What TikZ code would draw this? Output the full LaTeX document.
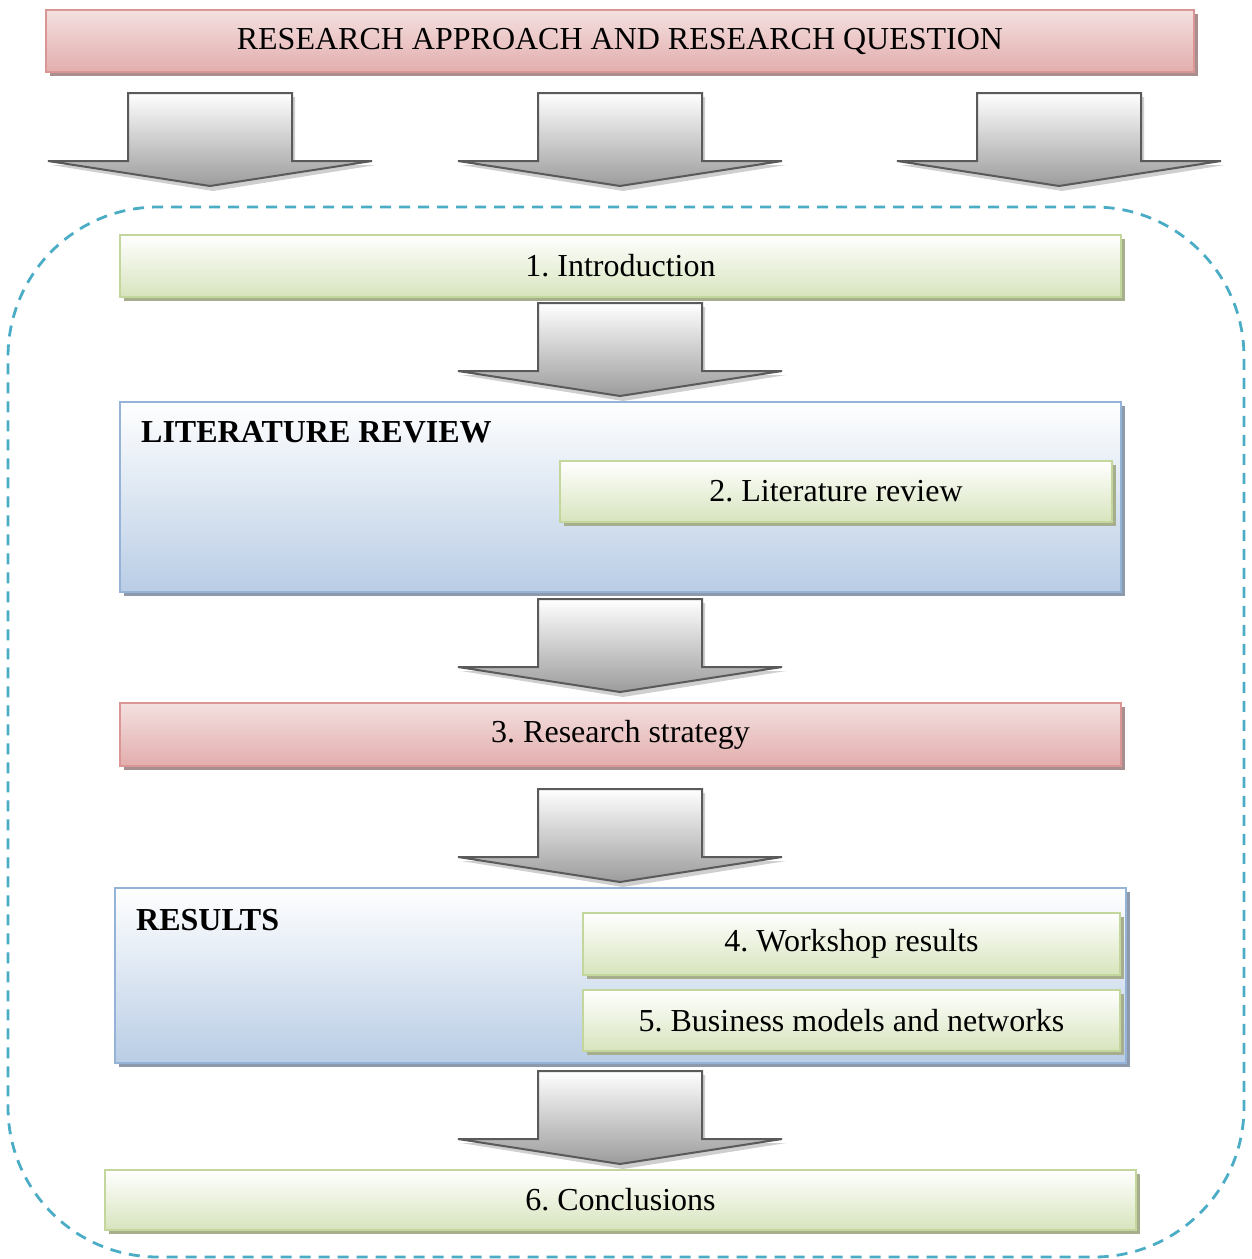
\documentclass[tikz,border=0pt]{standalone}
\usepackage{fontspec}
\setmainfont{Liberation Serif}
\usetikzlibrary{shadows}
\frenchspacing

\definecolor{pinkline}{HTML}{D99694}
\definecolor{pinktop}{HTML}{F4E0E0}
\definecolor{pinkbot}{HTML}{E3ADAD}
\definecolor{pinkshadow}{HTML}{A88E8E}
\definecolor{greenline}{HTML}{C3D69B}
\definecolor{greenbot}{HTML}{D7E4BD}
\definecolor{greenshadow}{HTML}{A6AE8E}
\definecolor{blueline}{HTML}{95B3D7}
\definecolor{bluebot}{HTML}{B9CDE5}
\definecolor{blueshadow}{HTML}{8D9AAC}
\definecolor{frameline}{HTML}{4BACC6}
\definecolor{arrowline}{HTML}{5A5A5A}
\definecolor{arrowbot}{HTML}{9C9C9C}
\definecolor{arrowshadow}{HTML}{CFCFCF}

\begin{document}
\begin{tikzpicture}[x=1pt,y=-1pt,
  every node/.style={inner sep=0pt, font=\fontsize{32}{38}\selectfont},
  box/.style={draw, line width=2.2pt, minimum height=62},
  pinkbox/.style={box, draw=pinkline, top color=pinktop, bottom color=pinkbot,
    general shadow={fill=pinkshadow, shadow xshift=4pt, shadow yshift=-4pt}},
  greenbox/.style={box, draw=greenline, top color=white, bottom color=greenbot,
    general shadow={fill=greenshadow, shadow xshift=4pt, shadow yshift=-4pt}},
  bluebox/.style={box, draw=blueline, top color=white, bottom color=bluebot,
    general shadow={fill=blueshadow, shadow xshift=4pt, shadow yshift=-4pt}},
  heading/.style={anchor=west, font=\fontsize{32}{38}\selectfont\bfseries},
  framebox/.style={draw=frameline, line width=2.8pt, dash pattern=on 11pt off 8pt,
    rounded corners=150pt},
  downarrow/.pic={
    \fill[arrowshadow] (-79,4) -- (85,4) -- (85,72) -- (166,72) -- (3,98)
      -- (-159,72) -- (-79,72) -- cycle;
    \shade[top color=white, bottom color=arrowbot, draw=arrowline, line width=2pt,
      line join=miter]
      (-82,0) -- (82,0) -- (82,68) -- (162,68) -- (0,93)
      -- (-162,68) -- (-82,68) -- cycle;
  }
]
\useasboundingbox (0,0) rectangle (1251,1259);

% dashed outline around the chapters
\node[framebox, minimum width=1236, minimum height=1050] (frame) at (626,732) {};

% heading bar
\node[pinkbox, minimum width=1148] (approach) at (620,41)
  {RESEARCH APPROACH AND RESEARCH QUESTION};

% three arrows below the heading bar
\pic (arrL) at (210,93) {downarrow};
\pic (arrM) at (620,93) {downarrow};
\pic (arrR) at (1059,93) {downarrow};

% chapter 1
\node[greenbox, minimum width=1001] (intro) at (620.5,266) {1. Introduction};
\pic (arr1) at (620,303) {downarrow};

% literature review block
\node[bluebox, minimum width=1001, minimum height=190] (litblock) at (620.5,497) {};
\node[heading] (lithead) at (141,432) {LITERATURE REVIEW};
\node[greenbox, minimum width=552, minimum height=61] (lit) at (836,491.5) {2. Literature review};
\pic (arr2) at (620,599) {downarrow};

% chapter 3
\node[pinkbox, minimum width=1001, minimum height=63] (strategy) at (620.5,734.5) {3. Research strategy};
\pic (arr3) at (620,789) {downarrow};

% results block
\node[bluebox, minimum width=1011, minimum height=175] (resblock) at (620.5,975.5) {};
\node[heading] (reshead) at (136,920) {RESULTS};
\node[greenbox, minimum width=537] (workshop) at (851.5,944) {4. Workshop results};
\node[greenbox, minimum width=537, minimum height=61] (business) at (851.5,1020.5) {5. Business models and networks};
\pic (arr4) at (620,1071) {downarrow};

% chapter 6
\node[greenbox, minimum width=1031, minimum height=60] (concl) at (620.5,1200) {6. Conclusions};
\end{tikzpicture}
\end{document}
